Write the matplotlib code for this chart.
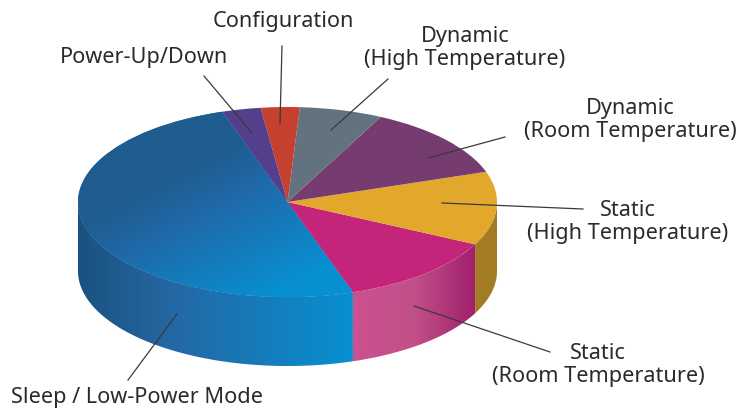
import numpy as np
import matplotlib
matplotlib.use('Agg')
import matplotlib.pyplot as plt
from matplotlib.colors import LinearSegmentedColormap
from matplotlib.lines import Line2D
from matplotlib.patches import Polygon

plt.rcParams['font.family'] = ['Noto Sans', 'DejaVu Sans']

# share of each mode, going round from the front of the pie
modes = ['Static (Room)', 'Static (High)', 'Dynamic (Room)', 'Dynamic (High)',
         'Configuration', 'Power-Up/Down', 'Sleep']
shares = [12.6, 12.5, 12.5, 6.4, 3.0, 3.0, 50.0]
top_colors = ['#C4257A', '#E3A72B', '#763C6F', '#62737F', '#C5402F', '#533F8B', '#1B6FAE']

# side wall shading, left to right
wall_colors = {
    'Static (Room)': [(0, '#CC5090'), (0.5, '#C25088'), (1, '#A01F6C')],
    'Static (High)': [(0, '#A37C24'), (1, '#A37C24')],
    'Sleep': [(0, '#1B5180'), (0.35, '#2468A4'), (1, '#0790D2')],
}

labels = ['Configuration', 'Dynamic\n(High Temperature)', 'Dynamic\n(Room Temperature)',
          'Static\n(High Temperature)', 'Static\n(Room Temperature)',
          'Power-Up/Down', 'Sleep / Low-Power Mode']
label_x = [283, 465, 630, 628, 598, 144, 137]
label_y = [22, 48, 120, 222, 365, 58, 398]

# leader lines, in pixels from the top left
leaders = [((282, 46), (280, 123)), ((388, 79), (331, 130)), ((505, 137), (428, 158)),
           ((583, 209), (442, 203)), ((550, 352), (414, 306)), ((204, 76), (252, 133)),
           ((128, 380), (177, 314))]

W, H = 736, 409
cx, cy, rx, ry, depth = 287.5, 202, 209.5, 95, 69
start = -71.8


def px(x, y):
    return x / W, 1 - y / H


def wall_poly(th0, th1):
    th = np.radians(np.linspace(th0, th1, 100))
    x, y = np.cos(th), np.sin(th)
    d = depth / ry
    return np.column_stack([np.r_[x, x[::-1]], np.r_[y, y[::-1] - d]])


def drawPie() -> None:
    fig = plt.figure(figsize=(W / 100, H / 100), dpi=100)
    ax = fig.add_axes([0, 0, 1, 1])

    wedges, _ = ax.pie(shares, colors=top_colors, startangle=start, radius=1, center=(0, 0))
    ax.set_aspect('auto')

    # walls, only the front half of each slice shows
    edges = start + np.r_[0, np.cumsum(shares)] * 3.6
    for i, mode in enumerate(modes):
        if mode not in wall_colors:
            continue
        th0, th1 = edges[i], min(edges[i + 1], 0)
        if mode == 'Sleep':
            th0, th1 = -180, start
        poly = Polygon(wall_poly(th0, th1), closed=True, fc='none', ec='none')
        ax.add_patch(poly)
        cmap = LinearSegmentedColormap.from_list(mode, wall_colors[mode])
        grad = np.linspace(0, 1, 256).reshape(1, -1)
        xs = np.cos(np.radians([th0, th1]))
        img = ax.imshow(grad, cmap=cmap, aspect='auto', zorder=1,
                        extent=(xs.min(), xs.max(), -2, 2))
        img.set_clip_path(poly)

    # sleep slice top runs from dark upper left to bright lower right
    xx, yy = np.meshgrid(np.linspace(-1, 1, 300), np.linspace(1, -1, 300))
    t = np.clip(0.5 + 0.65 * xx - 0.55 * yy, 0, 1)
    sleep_cmap = LinearSegmentedColormap.from_list(
        'sleep', [(0, '#1F5C90'), (0.3, '#2069A8'), (1, '#0790D2')])
    img = ax.imshow(t, cmap=sleep_cmap, aspect='auto', extent=(-1, 1, -1, 1), zorder=2)
    img.set_clip_path(wedges[modes.index('Sleep')])

    for w in wedges:
        w.set_zorder(2)
    wedges[modes.index('Sleep')].set_zorder(1)

    ax.set_xlim(-cx / rx, (W - cx) / rx)
    ax.set_ylim((cy - H) / ry, cy / ry)
    ax.axis('off')

    for (a, b) in leaders:
        xa, ya = px(*a)
        xb, yb = px(*b)
        fig.add_artist(Line2D([xa, xb], [ya, yb], color='#3a3a3a', lw=0.9,
                              transform=fig.transFigure, zorder=5))

    for text, x, y in zip(labels, label_x, label_y):
        fx, fy = px(x, y)
        fig.text(fx, fy, text, ha='center', va='center', fontsize=15.6, color='#2A2A2E',
                 linespacing=1.17, zorder=6)

    fig.savefig('out.png', dpi=100)


if __name__ == '__main__':
    drawPie()
